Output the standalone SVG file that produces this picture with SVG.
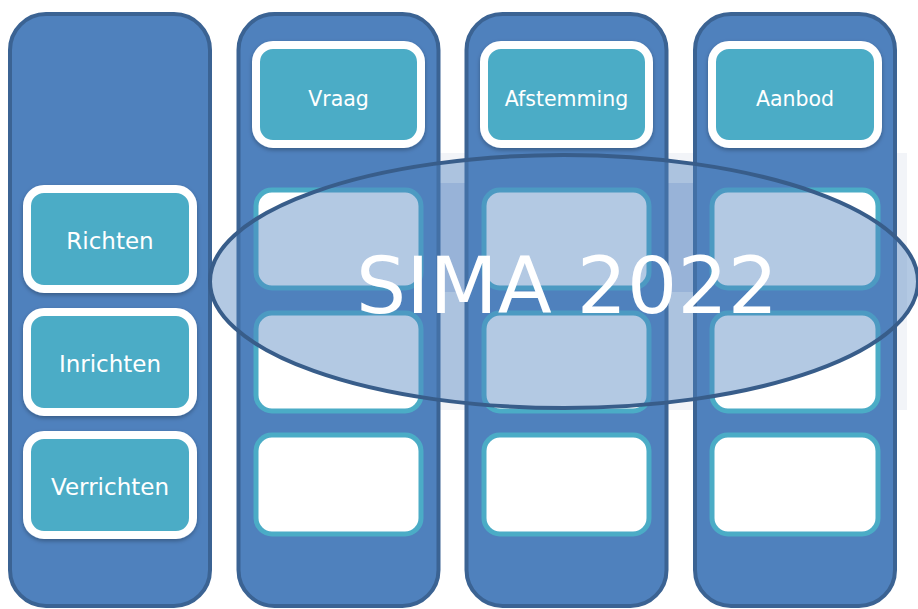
<svg xmlns="http://www.w3.org/2000/svg" width="918" height="609" viewBox="0 0 918 609">
<style>
.col{fill:#4f81bd;stroke:#3b6393;stroke-width:4}
.hdr{fill:#4bacc6;stroke:#ffffff;stroke-width:8;filter:url(#sh)}
.cell{fill:#ffffff;stroke:#4bacc6;stroke-width:5}
.lbl{font-family:"DejaVu Sans","Liberation Sans",sans-serif;fill:#ffffff;text-anchor:middle}
.h{font-size:20.5px}
.l{font-size:23px}
</style>
<defs>
<filter id="sh" x="-10%" y="-10%" width="120%" height="130%">
<feDropShadow dx="0" dy="2" stdDeviation="2" flood-color="#000000" flood-opacity="0.3"/>
</filter>
</defs>
<rect width="918" height="609" fill="#ffffff"/>
<g id="ghost">
<rect x="440" y="153" width="467" height="257" fill="#f2f4f8"/>
<rect x="440" y="183" width="253" height="109" fill="#d0d9ec"/>
</g>
<g id="col-levels">
<rect class="col" x="10" y="14" width="200" height="592" rx="36"/>
<g id="richten"><rect class="hdr" x="27" y="189" width="166" height="100" rx="17"/><text class="lbl l" x="110" y="249">Richten</text></g>
<g id="inrichten"><rect class="hdr" x="27" y="312" width="166" height="100" rx="17"/><text class="lbl l" x="110" y="372">Inrichten</text></g>
<g id="verrichten"><rect class="hdr" x="27" y="435" width="166" height="100" rx="17"/><text class="lbl l" x="110" y="495">Verrichten</text></g>
</g>
<g id="col-vraag">
<rect class="col" x="238.5" y="14" width="200" height="592" rx="36"/>
<g id="vraag"><rect class="hdr" x="256" y="45" width="165" height="99" rx="17"/><text class="lbl h" x="338.5" y="106">Vraag</text></g>
<rect class="cell" x="256" y="190" width="165" height="98" rx="16"/>
<rect class="cell" x="256" y="313" width="165" height="98" rx="16"/>
<rect class="cell" x="256" y="435" width="165" height="99" rx="16"/>
</g>
<g id="col-afstemming">
<rect class="col" x="466.5" y="14" width="200" height="592" rx="36"/>
<g id="afstemming"><rect class="hdr" x="484" y="45" width="165" height="99" rx="17"/><text class="lbl h" x="566.5" y="106">Afstemming</text></g>
<rect class="cell" x="484" y="190" width="165" height="98" rx="16"/>
<rect class="cell" x="484" y="313" width="165" height="98" rx="16"/>
<rect class="cell" x="484" y="435" width="165" height="99" rx="16"/>
</g>
<g id="col-aanbod">
<rect class="col" x="695" y="14" width="200" height="592" rx="36"/>
<g id="aanbod"><rect class="hdr" x="712" y="45" width="166" height="99" rx="17"/><text class="lbl h" x="795" y="106">Aanbod</text></g>
<rect class="cell" x="712" y="190" width="166" height="98" rx="16"/>
<rect class="cell" x="712" y="313" width="166" height="98" rx="16"/>
<rect class="cell" x="712" y="435" width="166" height="99" rx="16"/>
</g>
<g id="sima">
<ellipse cx="564" cy="281.5" rx="354" ry="126.5" fill="#4f81bd" fill-opacity="0.43" stroke="#385d8a" stroke-width="4"/>
<text class="lbl" x="567" y="313" style="font-size:79px">SIMA 2022</text>
</g>
</svg>
